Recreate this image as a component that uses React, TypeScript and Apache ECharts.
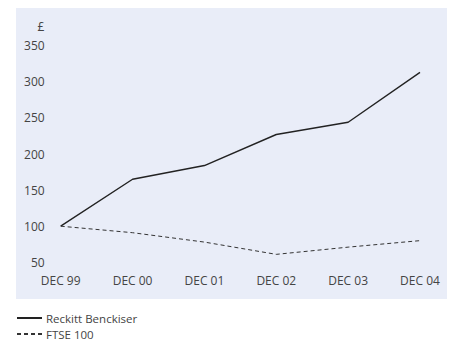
import React, { useEffect, useRef } from "react";
import * as echarts from "echarts";

const categories = ["DEC 99", "DEC 00", "DEC 01", "DEC 02", "DEC 03", "DEC 04"];
const reckitt = [100, 165, 184, 227, 244, 313];
const ftse = [100, 91, 78, 61, 71, 80];
const yTicks = { min: 50, max: 350, interval: 50 };
const currency = "£";

export default function App() {
  const ref = useRef<HTMLDivElement>(null);
  useEffect(() => {
    if (!ref.current) return;
    const chart = echarts.init(ref.current, null, { renderer: "svg" });
    const font = "'Open Sans', sans-serif";
    chart.setOption({
      animation: false,
      backgroundColor: "#ffffff",
      textStyle: { fontFamily: font },
      graphic: [
        {
          type: "rect",
          z: -10,
          shape: { x: 16, y: 8, width: 431, height: 291 },
          style: { fill: "#e9edf8" },
          silent: true,
        },
        {
          type: "text",
          x: 41,
          y: 26,
          style: {
            text: currency,
            fill: "#444",
            font: `12px ${font}`,
            align: "center",
            verticalAlign: "middle",
          },
        },
      ],
      grid: { left: 60.7, right: 36, top: 45.7, bottom: 78.7, containLabel: false },
      xAxis: {
        type: "category",
        data: categories,
        boundaryGap: false,
        axisLine: { show: false },
        axisTick: { show: false },
        splitLine: { show: false },
        axisLabel: { color: "#444", fontSize: 12, margin: 12, fontFamily: font },
      },
      yAxis: {
        type: "value",
        min: yTicks.min,
        max: yTicks.max,
        interval: yTicks.interval,
        axisLine: { show: false },
        axisTick: { show: false },
        splitLine: { show: false },
        axisLabel: { color: "#444", fontSize: 12, margin: 16, fontFamily: font },
      },
      legend: {
        orient: "vertical",
        left: 16,
        top: 312,
        itemWidth: 25,
        itemHeight: 10,
        itemGap: 4,
        padding: 0,
        itemStyle: { opacity: 0 },
        textStyle: { color: "#444", fontSize: 11.5, fontFamily: font, lineHeight: 11, padding: [0, 0, 0, -1] },
        data: ["Reckitt Benckiser", "FTSE 100"],
      },
      series: [
        {
          name: "Reckitt Benckiser",
          type: "line",
          data: reckitt,
          symbol: "none",
          lineStyle: { color: "#222", width: 1.4 },
          itemStyle: { color: "#222" },
        },
        {
          name: "FTSE 100",
          type: "line",
          data: ftse,
          symbol: "none",
          lineStyle: { color: "#333", width: 1, type: [4, 3] },
          itemStyle: { color: "#333" },
        },
      ],
    });
    return () => chart.dispose();
  }, []);
  return <div ref={ref} style={{ width: 456, height: 341, position: "absolute", left: 0, top: 0 }} />;
}
